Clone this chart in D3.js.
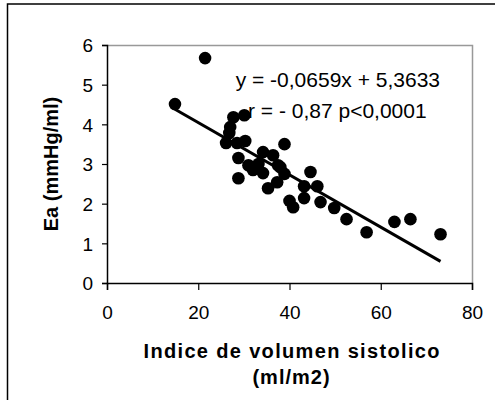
<!DOCTYPE html>
<html>
<head>
<meta charset="utf-8">
<script src="https://cdn.jsdelivr.net/npm/d3@7"></script>
<style>
  body { margin: 0; background: #fff; }
  text { font-family: Arial, "Liberation Sans", sans-serif; }
</style>
</head>
<body>
<script>
// values
var ivs = [21.5, 14.9, 27.7, 30.1, 27.0, 26.8, 26.1, 28.5, 30.3, 38.9,
           28.8, 31.0, 34.2, 36.4, 37.5, 33.2, 34.2, 35.3, 37.3, 38.9,
           44.6, 43.2, 46.1, 40.0, 40.8, 43.2, 46.8, 49.8, 52.5, 56.9,
           63.0, 66.5, 73.1, 28.8, 32.0, 38.0];
var ea  = [5.67, 4.51, 4.18, 4.23, 3.93, 3.78, 3.53, 3.53, 3.58, 3.50,
           3.15, 2.97, 3.30, 3.22, 2.97, 3.00, 2.77, 2.39, 2.54, 2.75,
           2.80, 2.44, 2.44, 2.07, 1.91, 2.14, 2.04, 1.89, 1.61, 1.28,
           1.54, 1.61, 1.23, 2.64, 2.85, 2.92];
var xTicks = [0, 20, 40, 60, 80];
var yTicks = [0, 1, 2, 3, 4, 5, 6];
var slope = -0.0659, intercept = 5.3633;
var eqText = ["y = -0,0659x + 5,3633", "r = - 0,87 p<0,0001"];

d3.select("body").append("svg")
    .attr("id", "chart")
    .attr("width", 495)
    .attr("height", 400);

var svg = d3.select("#chart"),
    margin = {top: 45, right: 23, bottom: 117, left: 107},
    width = +svg.attr("width") - margin.left - margin.right,
    height = +svg.attr("height") - margin.top - margin.bottom;

// outer frame (right/bottom fall off the picture)
svg.append("rect")
    .attr("x", 7.5).attr("y", 4)
    .attr("width", 520).attr("height", 420)
    .attr("fill", "none")
    .attr("stroke", "#000")
    .attr("stroke-width", 1.5);

var x = d3.scaleLinear().domain([0, 80]).range([0, width]);
var y = d3.scaleLinear().domain([0, 6]).range([height, 0]);

var g = svg.append("g")
    .attr("transform", "translate(" + margin.left + "," + margin.top + ")");

// grey plot border top/right
g.append("path")
    .attr("d", "M0,0.5H" + (width + 0.5) + "V" + height)
    .attr("fill", "none")
    .attr("stroke", "#999")
    .attr("stroke-width", 1.5);

var xAxis = g.append("g")
    .attr("transform", "translate(0," + height + ")")
    .call(d3.axisBottom(x).tickValues(xTicks).tickSize(7).tickPadding(16).tickFormat(d3.format("d")));
var yAxis = g.append("g")
    .call(d3.axisLeft(y).tickValues(yTicks).tickSize(5).tickPadding(9).tickFormat(d3.format("d")));

[xAxis, yAxis].forEach(function(a) {
  a.select(".domain").attr("stroke", "#000").attr("stroke-width", 1.5);
  a.selectAll(".tick line").attr("stroke", "#000").attr("stroke-width", 1.2);
  a.selectAll("text")
      .attr("font-family", "Arial, 'Liberation Sans', sans-serif")
      .attr("font-size", "19px")
      .attr("fill", "#000");
});
yAxis.selectAll("text").attr("dy", "0.36em");

// trend line over the data range
var xr = d3.extent(ivs);
g.append("line")
    .attr("x1", x(xr[0])).attr("y1", y(slope * xr[0] + intercept))
    .attr("x2", x(xr[1])).attr("y2", y(slope * xr[1] + intercept))
    .attr("stroke", "#000")
    .attr("stroke-width", 3);

g.selectAll("circle")
  .data(ivs)
  .enter().append("circle")
    .attr("cx", function(d) { return x(d); })
    .attr("cy", function(d, i) { return y(ea[i]); })
    .attr("r", 6.3)
    .attr("fill", "#000");

// equation
svg.append("text")
    .attr("x", 440).attr("y", 87)
    .attr("text-anchor", "end")
    .attr("font-size", "21px")
    .text(eqText[0]);
svg.append("text")
    .attr("x", 248).attr("y", 118)
    .attr("font-size", "21px")
    .text(eqText[1]);

// axis titles
svg.append("text")
    .attr("x", margin.left + width / 2 + 2).attr("y", 358)
    .attr("text-anchor", "middle")
    .attr("font-weight", "bold")
    .attr("font-size", "20px")
    .attr("textLength", 296)
    .text("Indice de volumen sistolico");
svg.append("text")
    .attr("x", margin.left + width / 2 + 2).attr("y", 384)
    .attr("text-anchor", "middle")
    .attr("font-weight", "bold")
    .attr("font-size", "20px")
    .attr("letter-spacing", "1px")
    .text("(ml/m2)");
svg.append("text")
    .attr("transform", "translate(58," + (margin.top + height / 2) + ") rotate(-90)")
    .attr("text-anchor", "middle")
    .attr("font-weight", "bold")
    .attr("font-size", "20px")
    .text("Ea (mmHg/ml)");
</script>
</body>
</html>
